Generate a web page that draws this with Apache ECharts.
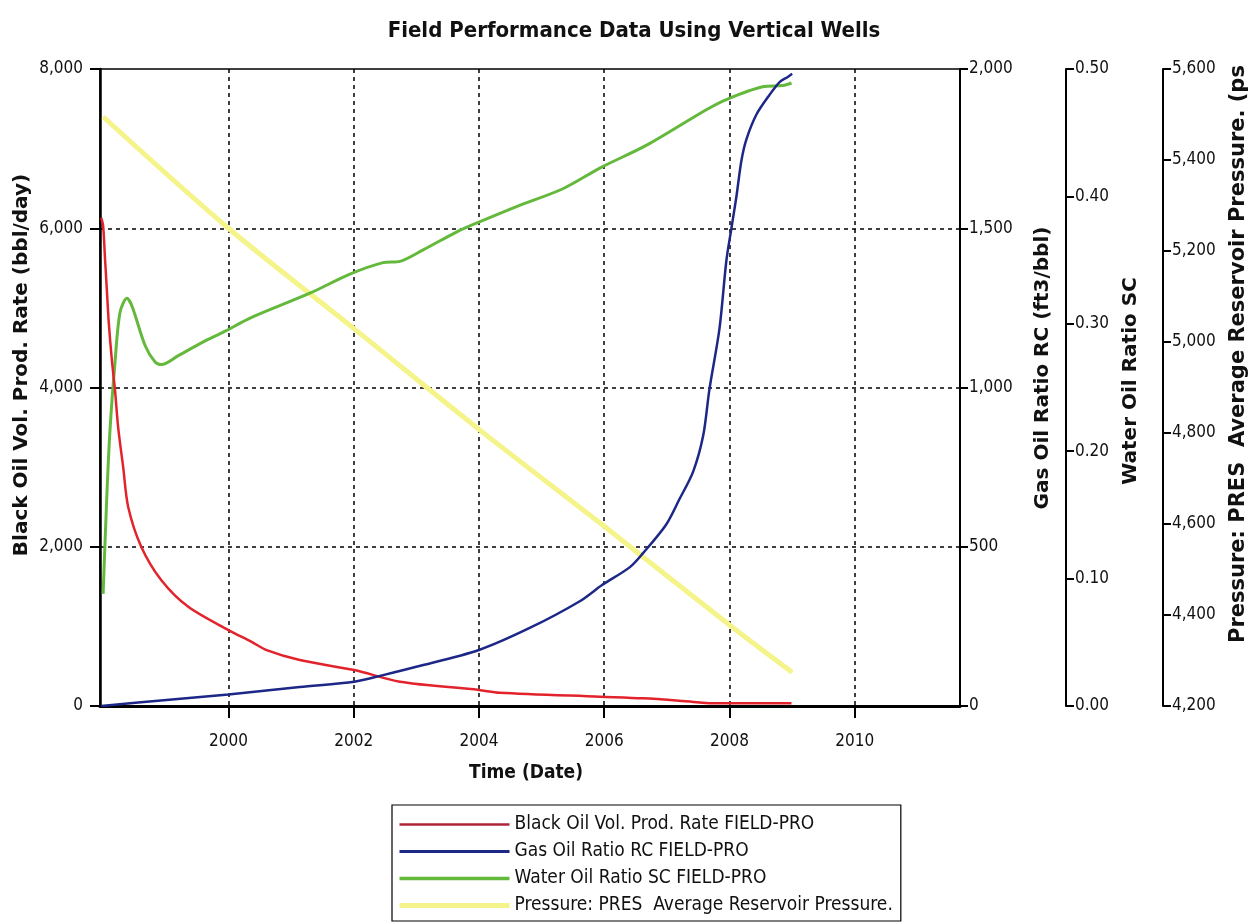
<!DOCTYPE html>
<html>
<head>
<meta charset="utf-8">
<title>Field Performance Data Using Vertical Wells</title>
<script src="https://cdn.jsdelivr.net/npm/echarts@6/dist/echarts.min.js"></script>
<style>
html,body{margin:0;padding:0;background:#fff;}
#chart{width:1251px;height:924px;}
</style>
</head>
<body>
<div id="chart"></div>
<script>
// ---- data (decimal years) ----
const xTickYears = [2000, 2002, 2004, 2006, 2008, 2010];

const oilYears = [1997.97, 1998.00, 1998.03, 1998.06, 1998.09, 1998.14, 1998.19, 1998.24, 1998.32, 1998.40, 1998.61, 1998.93, 1999.36, 2000.00, 2000.37, 2000.61, 2001.14, 2002.01, 2002.74, 2004.00, 2004.33, 2005.93, 2006.62, 2007.26, 2007.74, 2008.99];
const oilRate  = [6130, 6030, 5620, 5217, 4815, 4339, 3963, 3500, 3000, 2500, 1998, 1580, 1245, 953, 806, 702, 577, 451, 305, 201, 167, 117, 96, 63, 34, 34];

const gorYears = [1997.97, 1999.01, 2000.00, 2001.14, 2002.01, 2002.47, 2003.00, 2004.00, 2004.81, 2005.61, 2005.96, 2006.41, 2006.62, 2006.99, 2007.20, 2007.42, 2007.58, 2007.68, 2007.84, 2007.95, 2008.03, 2008.11, 2008.19, 2008.27, 2008.43, 2008.64, 2008.80, 2008.93, 2009.00];
const gorValues = [0, 19, 36, 60, 76, 97, 123, 176, 245, 329, 379, 436, 480, 570, 649, 736, 849, 995, 1185, 1398, 1499, 1599, 1712, 1779, 1857, 1919, 1959, 1975, 1985];

const worYears = [1998.00, 1998.06, 1998.11, 1998.19, 1998.27, 1998.38, 1998.46, 1998.67, 1998.83, 1998.93, 1999.20, 1999.57, 1999.94, 2000.37, 2001.30, 2001.94, 2002.47, 2002.74, 2003.11, 2003.64, 2003.96, 2004.60, 2005.34, 2005.96, 2006.67, 2007.63, 2007.95, 2008.53, 2008.85, 2008.99];
const worValues = [0.088, 0.166, 0.217, 0.270, 0.309, 0.320, 0.314, 0.283, 0.270, 0.268, 0.275, 0.285, 0.294, 0.305, 0.324, 0.339, 0.348, 0.349, 0.358, 0.372, 0.379, 0.392, 0.406, 0.423, 0.440, 0.468, 0.476, 0.486, 0.487, 0.489];

const presYears = [1998.00, 2000.00, 2002.00, 2004.00, 2006.00, 2008.00, 2009.00];
const presValues = [5495, 5250, 5030, 4808, 4595, 4378, 4274];

const seriesNames = [
  'Black Oil Vol. Prod. Rate FIELD-PRO',
  'Gas Oil Ratio RC FIELD-PRO',
  'Water Oil Ratio SC FIELD-PRO',
  'Pressure: PRES  Average Reservoir Pressure.'
];

function zip(xs, ys) { return xs.map((x, i) => [x, ys[i]]); }

const NARROW = "'Liberation Sans Narrow','Arial Narrow','DejaVu Sans Condensed',sans-serif";
const BOLD = "'DejaVu Sans',Verdana,sans-serif";

const RED = '#e3232b', BLUE = '#1c2787', GREEN = '#64b93c', YELLOW = '#f4f48a';

const chart = echarts.init(document.getElementById('chart'), null, {renderer: 'canvas'});

const axisLbl = {color: '#111', fontFamily: NARROW, fontSize: 17};

const option = {
  backgroundColor: '#fff',
  animation: false,
  title: {
    text: 'Field Performance Data Using Vertical Wells',
    left: 629, top: 15, textAlign: 'center',
    textStyle: {fontFamily: NARROW, fontWeight: 'bold', fontSize: 22, color: '#111'}
  },
  grid: {left: 100, right: 291, top: 69, bottom: 218, show: true, borderColor: '#000', borderWidth: 1.5, backgroundColor: 'transparent'},
  xAxis: {
    type: 'value', min: 1997.95, max: 2011.68,
    axisLine: {lineStyle: {color: '#000', width: 3}},
    axisTick: {show: true, inside: false, length: 12, customValues: xTickYears, lineStyle: {color: '#000', width: 2}},
    axisLabel: Object.assign({}, axisLbl, {margin: 27, customValues: xTickYears, formatter: v => String(Math.round(v))}),
    splitLine: {show: true, lineStyle: {color: '#000', width: 1.5, type: [4, 4]}}
  },
  yAxis: [
    {
      type: 'value', position: 'left', min: 0, max: 8000, interval: 2000,
      axisLine: {show: true, lineStyle: {color: '#000', width: 2.5}},
      axisTick: {show: true, length: 10, lineStyle: {color: '#000', width: 2}},
      axisLabel: Object.assign({}, axisLbl, {margin: 17}),
      splitLine: {show: true, showMinLine: false, showMaxLine: false, lineStyle: {color: '#000', width: 1.5, type: [4, 4]}}
    },
    {
      type: 'value', position: 'right', offset: 0, min: 0, max: 2000, interval: 500,
      axisLine: {show: true, lineStyle: {color: '#000', width: 2}},
      axisTick: {show: true, length: 8, lineStyle: {color: '#000', width: 2}},
      axisLabel: Object.assign({}, axisLbl, {margin: 9}),
      splitLine: {show: false}
    },
    {
      type: 'value', position: 'right', offset: 106, min: 0, max: 0.5, interval: 0.1,
      axisLine: {show: true, lineStyle: {color: '#000', width: 2}},
      axisTick: {show: true, length: 8, lineStyle: {color: '#000', width: 2}},
      axisLabel: Object.assign({}, axisLbl, {margin: 9, formatter: v => v.toFixed(2)}),
      splitLine: {show: false}
    },
    {
      type: 'value', position: 'right', offset: 203, min: 4200, max: 5600, interval: 200,
      axisLine: {show: true, lineStyle: {color: '#000', width: 2}},
      axisTick: {show: true, length: 8, lineStyle: {color: '#000', width: 2}},
      axisLabel: Object.assign({}, axisLbl, {margin: 9}),
      splitLine: {show: false}
    }
  ],
  legend: {
    orient: 'vertical', left: 392, top: 805,
    padding: [10, 8, 6, 5], itemGap: 8,
    itemWidth: 110, itemHeight: 6,
    borderColor: '#000', borderWidth: 1.2, backgroundColor: '#fff',
    textStyle: {fontFamily: NARROW, fontSize: 19, color: '#111'},
    itemStyle: {opacity: 0},
    data: [
      {name: seriesNames[0], lineStyle: {width: 2.5, color: '#b0243a'}},
      {name: seriesNames[1], lineStyle: {width: 3, color: BLUE}},
      {name: seriesNames[2], lineStyle: {width: 3.5, color: GREEN}},
      {name: seriesNames[3], lineStyle: {width: 5, color: YELLOW}}
    ]
  },
  graphic: [
    {type: 'text', x: 22, y: 365, rotation: Math.PI / 2,
      style: {text: 'Black Oil Vol. Prod. Rate (bbl/day)', font: "bold 20px " + BOLD, fill: '#111', textAlign: 'center', textVerticalAlign: 'middle'}},
    {type: 'text', x: 1043, y: 368, rotation: Math.PI / 2,
      style: {text: 'Gas Oil Ratio RC (ft3/bbl)', font: "bold 20px " + BOLD, fill: '#111', textAlign: 'center', textVerticalAlign: 'middle'}},
    {type: 'text', x: 1131, y: 381, rotation: Math.PI / 2,
      style: {text: 'Water Oil Ratio SC', font: "bold 20px " + BOLD, fill: '#111', textAlign: 'center', textVerticalAlign: 'middle'}},
    {type: 'text', x: 1239, y: 643, rotation: Math.PI / 2,
      style: {text: 'Pressure: PRES  Average Reservoir Pressure. (ps', font: "bold 21px " + BOLD, fill: '#111', textAlign: 'left', textVerticalAlign: 'middle'}},
    {type: 'text', x: 526, y: 773,
      style: {text: 'Time (Date)', font: "bold 19px " + NARROW, fill: '#111', textAlign: 'center', textVerticalAlign: 'middle'}}
  ],
  series: [
    {name: seriesNames[3], type: 'line', yAxisIndex: 3, data: zip(presYears, presValues), symbol: 'none', smooth: 0.3,
      lineStyle: {color: YELLOW, width: 5}, itemStyle: {color: YELLOW}, z: 2},
    {name: seriesNames[2], type: 'line', yAxisIndex: 2, data: zip(worYears, worValues), symbol: 'none', smooth: 0.3,
      lineStyle: {color: GREEN, width: 3}, itemStyle: {color: GREEN}, z: 3},
    {name: seriesNames[0], type: 'line', yAxisIndex: 0, data: zip(oilYears, oilRate), symbol: 'none', smooth: 0.3,
      lineStyle: {color: RED, width: 2.5}, itemStyle: {color: RED}, z: 4},
    {name: seriesNames[1], type: 'line', yAxisIndex: 1, data: zip(gorYears, gorValues), symbol: 'none', smooth: 0.3,
      lineStyle: {color: BLUE, width: 2.5}, itemStyle: {color: BLUE}, z: 5}
  ]
};
chart.setOption(option);
</script>
</body>
</html>
